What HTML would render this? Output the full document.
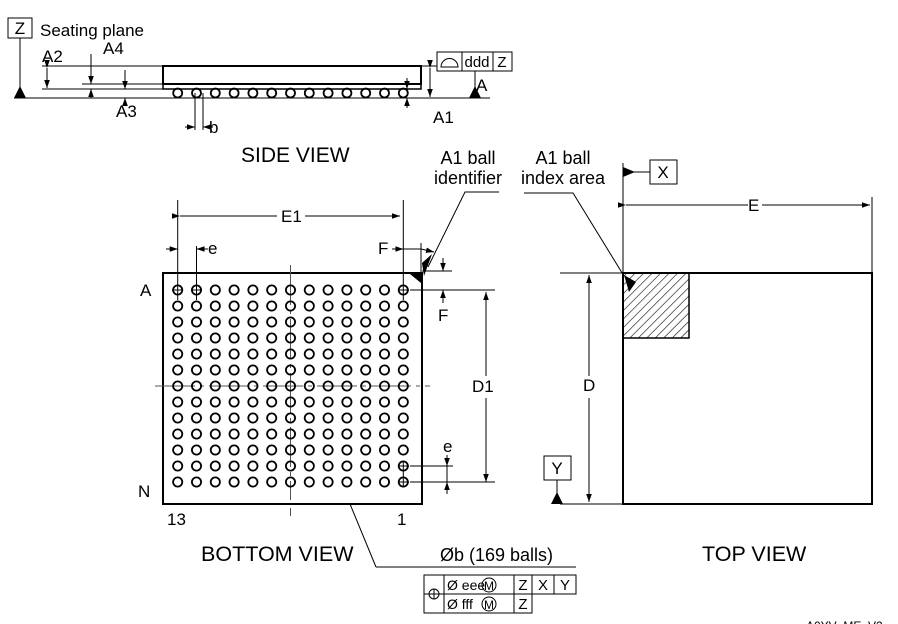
<!DOCTYPE html>
<html><head><meta charset="utf-8"><style>
html,body{margin:0;padding:0;background:#fff;}
svg{display:block;font-family:"Liberation Sans",Arial,sans-serif;}
</style></head><body>
<svg width="898" height="624" viewBox="0 0 898 624" xmlns="http://www.w3.org/2000/svg">
<defs>
<marker id="ar" viewBox="0 0 10 10" refX="10" refY="5" markerWidth="8" markerHeight="8" markerUnits="userSpaceOnUse" orient="auto"><path d="M0,1.5 L10,5 L0,8.5 z" fill="#000"/></marker>
<pattern id="hatch" patternUnits="userSpaceOnUse" width="6" height="6" patternTransform="rotate(45)"><line x1="0" y1="0" x2="0" y2="6" stroke="#000" stroke-width="1.2"/></pattern>
<g id="row"><g fill="none" stroke="#000" stroke-width="1.8">
<circle cx="177.7" cy="0" r="4.6"/><circle cx="196.5" cy="0" r="4.6"/><circle cx="215.3" cy="0" r="4.6"/><circle cx="234.1" cy="0" r="4.6"/><circle cx="252.9" cy="0" r="4.6"/><circle cx="271.7" cy="0" r="4.6"/><circle cx="290.5" cy="0" r="4.6"/><circle cx="309.3" cy="0" r="4.6"/><circle cx="328.1" cy="0" r="4.6"/><circle cx="346.9" cy="0" r="4.6"/><circle cx="365.7" cy="0" r="4.6"/><circle cx="384.5" cy="0" r="4.6"/><circle cx="403.3" cy="0" r="4.6"/></g></g>
</defs>
<g stroke="#000" fill="none" stroke-width="1">
<rect x="8" y="18" width="24" height="20"/>
<line x1="20" y1="38" x2="20" y2="98"/>
<line x1="14" y1="98" x2="490" y2="98"/>
<rect x="163" y="66" width="258" height="18" stroke-width="2"/>
<rect x="163" y="84" width="258" height="5" stroke-width="1.5"/>
<line x1="42" y1="66" x2="163" y2="66"/>
<line x1="42" y1="89" x2="163" y2="89"/>
<line x1="82" y1="84" x2="163" y2="84"/>
<line x1="47" y1="68" x2="47" y2="88" marker-start="url(#ar)" marker-end="url(#ar)"/>
<line x1="91" y1="54" x2="91" y2="84" marker-end="url(#ar)"/>
<line x1="91" y1="98" x2="91" y2="89" marker-end="url(#ar)"/>
<line x1="125" y1="70" x2="125" y2="89" marker-end="url(#ar)"/>
<line x1="125" y1="105" x2="125" y2="98" marker-end="url(#ar)"/>
<line x1="421" y1="89" x2="413" y2="89"/>
<line x1="407" y1="78" x2="407" y2="89" marker-end="url(#ar)"/>
<line x1="407" y1="108" x2="407" y2="98" marker-end="url(#ar)"/>
<line x1="421" y1="66" x2="437" y2="66"/>
<line x1="430" y1="68" x2="430" y2="97" marker-start="url(#ar)" marker-end="url(#ar)"/>
<rect x="437" y="52" width="75" height="19"/>
<line x1="462" y1="52" x2="462" y2="71"/><line x1="493" y1="52" x2="493" y2="71"/>
<path d="M441,67 A8,8 0 0 1 458,67 Z"/>
<line x1="475" y1="71" x2="475" y2="98"/>
<g stroke-width="1.8">
<circle cx="177.7" cy="93" r="4.5"/><circle cx="196.5" cy="93" r="4.5"/><circle cx="215.3" cy="93" r="4.5"/><circle cx="234.1" cy="93" r="4.5"/><circle cx="252.9" cy="93" r="4.5"/><circle cx="271.7" cy="93" r="4.5"/><circle cx="290.5" cy="93" r="4.5"/><circle cx="309.3" cy="93" r="4.5"/><circle cx="328.1" cy="93" r="4.5"/><circle cx="346.9" cy="93" r="4.5"/><circle cx="365.7" cy="93" r="4.5"/><circle cx="384.5" cy="93" r="4.5"/><circle cx="403.3" cy="93" r="4.5"/></g>
<line x1="195" y1="93" x2="195" y2="130"/><line x1="203" y1="93" x2="203" y2="130"/>
<line x1="185" y1="127" x2="195" y2="127" marker-end="url(#ar)"/>
<line x1="213" y1="127" x2="203" y2="127" marker-end="url(#ar)"/>

<rect x="163" y="273" width="259" height="231" stroke-width="2"/>
<line x1="290.5" y1="265" x2="290.5" y2="500" stroke="#555" stroke-dasharray="40,5,4,5"/>
<line x1="155" y1="386" x2="430" y2="386" stroke="#555" stroke-dasharray="40,5,4,5"/>
<line x1="290.5" y1="508" x2="290.5" y2="516" stroke="#555"/>
<line x1="177.7" y1="200" x2="177.7" y2="300"/>
<line x1="403.3" y1="200" x2="403.3" y2="300"/>
<line x1="180" y1="216" x2="277" y2="216" marker-start="url(#ar)"/>
<line x1="305" y1="216" x2="400" y2="216" marker-end="url(#ar)"/>
<line x1="196.5" y1="246" x2="196.5" y2="300"/>
<line x1="166" y1="249" x2="177.7" y2="249" marker-end="url(#ar)"/>
<line x1="208" y1="249" x2="196.5" y2="249" marker-end="url(#ar)"/>
<line x1="392" y1="249" x2="403.3" y2="249" marker-end="url(#ar)"/>
<line x1="403.3" y1="249" x2="421" y2="249"/>
<line x1="421" y1="243" x2="421" y2="273"/>
<line x1="421" y1="249" x2="434" y2="252" marker-end="url(#ar)"/>
<line x1="422" y1="271" x2="452" y2="271"/>
<line x1="410" y1="290" x2="495" y2="290"/>
<line x1="443" y1="258" x2="443" y2="271" marker-end="url(#ar)"/>
<line x1="443" y1="303" x2="443" y2="290" marker-end="url(#ar)"/>
<line x1="486" y1="376" x2="486" y2="292" marker-end="url(#ar)"/>
<line x1="486" y1="398" x2="486" y2="482" marker-end="url(#ar)"/>
<line x1="410" y1="482" x2="495" y2="482"/>
<line x1="410" y1="466" x2="453" y2="466"/>
<line x1="447" y1="455" x2="447" y2="466" marker-end="url(#ar)"/>
<line x1="447" y1="494" x2="447" y2="482" marker-end="url(#ar)"/>
<line x1="447" y1="466" x2="447" y2="482"/>
<polyline points="499,192 465,192 428,267"/>
<line x1="350" y1="504" x2="376" y2="567"/>
<line x1="376" y1="567" x2="576" y2="567"/>
<line x1="172" y1="290" x2="183" y2="290"/><line x1="191" y1="290" x2="202" y2="290"/><line x1="398" y1="290" x2="409" y2="290"/>
<line x1="398" y1="466" x2="409" y2="466"/><line x1="398" y1="482" x2="409" y2="482"/>
<line x1="403.3" y1="461" x2="403.3" y2="487"/>

<rect x="424" y="575" width="152" height="19"/>
<rect x="424" y="575" width="20" height="38"/>
<rect x="444" y="594" width="88" height="19"/>
<line x1="514" y1="575" x2="514" y2="613"/><line x1="532" y1="575" x2="532" y2="594"/><line x1="554" y1="575" x2="554" y2="594"/>
<circle cx="434" cy="594" r="5"/><line x1="429" y1="594" x2="439" y2="594"/><line x1="434" y1="589" x2="434" y2="599"/>
<circle cx="489" cy="585" r="7"/><circle cx="489" cy="604" r="7"/>

<rect x="623" y="273" width="66" height="65" fill="url(#hatch)" stroke-width="1.5"/>
<rect x="623" y="273" width="249" height="231" stroke-width="2"/>
<line x1="623" y1="163" x2="623" y2="273"/>
<line x1="872" y1="197" x2="872" y2="273"/>
<line x1="626" y1="205" x2="748" y2="205" marker-start="url(#ar)"/>
<line x1="762" y1="205" x2="870" y2="205" marker-end="url(#ar)"/>
<line x1="560" y1="273" x2="623" y2="273"/>
<line x1="560" y1="504" x2="623" y2="504"/>
<line x1="589" y1="376" x2="589" y2="275" marker-end="url(#ar)"/>
<line x1="589" y1="398" x2="589" y2="502" marker-end="url(#ar)"/>
<polyline points="524,193 573,193 624,276"/>
<rect x="650" y="160" width="27" height="24"/>
<line x1="623" y1="172" x2="650" y2="172"/>
<rect x="544" y="456" width="27" height="24"/>
<line x1="557" y1="480" x2="557" y2="504"/>
</g>
<use href="#row" y="290"/><use href="#row" y="306"/><use href="#row" y="322"/><use href="#row" y="338"/><use href="#row" y="354"/><use href="#row" y="370"/><use href="#row" y="386"/><use href="#row" y="402"/><use href="#row" y="418"/><use href="#row" y="434"/><use href="#row" y="450"/><use href="#row" y="466"/><use href="#row" y="482"/>
<g fill="#000">
<path d="M14,98 L20,86 L26,98 z"/><path d="M469,98 L475,86 L481,98 z"/><path d="M551,504 L557,492 L563,504 z"/>
<path d="M623,167 L635,172 L623,177 z"/>
<path d="M422,263 L432,254 L424,276 z"/>
<path d="M410,274 L421,274 L421,283 z"/>
<path d="M624,275 L636,282 L629,292 z"/>
</g>
<g font-size="17" fill="#000">
<text x="20" y="34" text-anchor="middle">Z</text>
<text x="40" y="36">Seating plane</text>
<text x="42" y="62">A2</text>
<text x="103" y="54">A4</text>
<text x="116" y="117">A3</text>
<text x="209" y="133">b</text>
<text x="433" y="123">A1</text>
<text x="476" y="91">A</text>
<text x="477" y="67" font-size="15" text-anchor="middle">ddd</text>
<text x="502" y="67" font-size="15" text-anchor="middle">Z</text>
<text x="241" y="162" font-size="21">SIDE VIEW</text>
<text x="468" y="164" text-anchor="middle" font-size="18">A1 ball</text>
<text x="468" y="184" text-anchor="middle" font-size="18">identifier</text>
<text x="563" y="164" text-anchor="middle" font-size="18">A1 ball</text>
<text x="563" y="184" text-anchor="middle" font-size="18">index area</text>
<text x="663" y="178" text-anchor="middle">X</text>
<text x="281" y="222">E1</text>
<text x="208" y="254">e</text>
<text x="378" y="254">F</text>
<text x="140" y="296">A</text>
<text x="438" y="321">F</text>
<text x="472" y="392">D1</text>
<text x="443" y="452">e</text>
<text x="138" y="497">N</text>
<text x="167" y="525">13</text>
<text x="397" y="525">1</text>
<text x="748" y="211">E</text>
<text x="583" y="391">D</text>
<text x="557" y="474" text-anchor="middle">Y</text>
<text x="201" y="561" font-size="21.5">BOTTOM VIEW</text>
<text x="702" y="561" font-size="21.5">TOP VIEW</text>
<text x="440" y="561" font-size="18">Øb (169 balls)</text>
<text x="447" y="590" font-size="14">Ø eee</text>
<text x="447" y="609" font-size="14">Ø fff</text>
<text x="489" y="590" font-size="12" text-anchor="middle">M</text>
<text x="489" y="609" font-size="12" text-anchor="middle">M</text>
<text x="523" y="590" font-size="15" text-anchor="middle">Z</text>
<text x="543" y="590" font-size="15" text-anchor="middle">X</text>
<text x="565" y="590" font-size="15" text-anchor="middle">Y</text>
<text x="523" y="609" font-size="15" text-anchor="middle">Z</text>
<text x="806" y="630" font-size="12">A0YV_ME_V2</text>
</g>
</svg>
</body></html>
